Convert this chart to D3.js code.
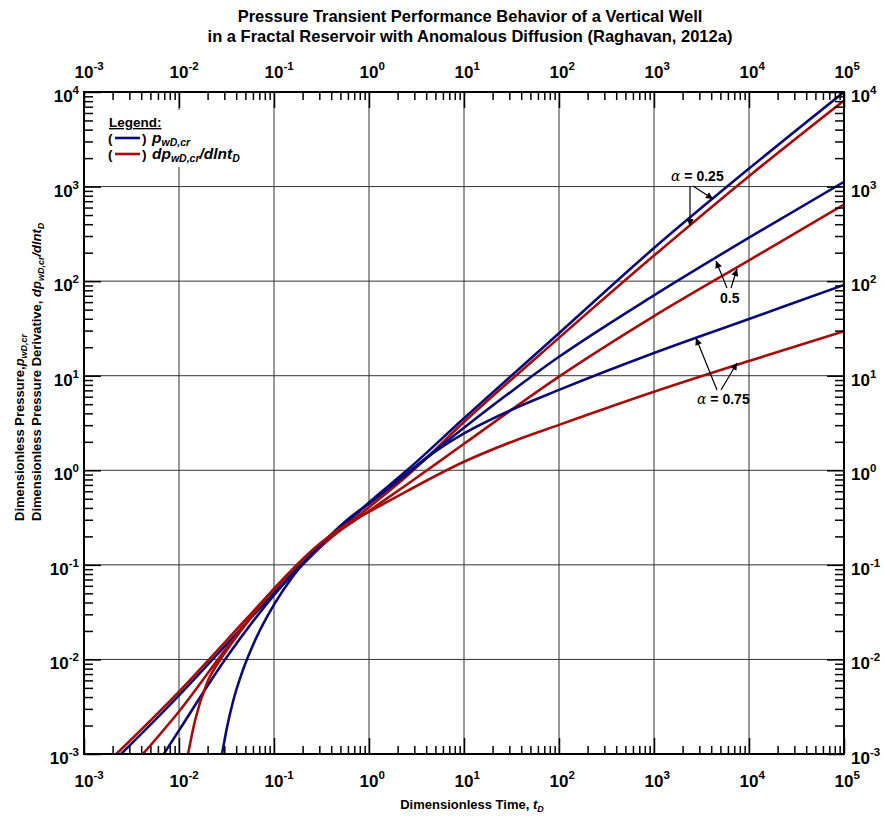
<!DOCTYPE html>
<html><head><meta charset="utf-8">
<script src="https://cdn.jsdelivr.net/npm/d3@7"></script>
<style>body{margin:0;background:#fff}svg{display:block;font-family:"Liberation Sans",Arial,sans-serif}</style>
</head><body><svg id="c" width="884" height="820"></svg>
<script>
// ---- data ----
const xExponents = [-3,-2,-1,0,1,2,3,4,5];
const yExponents = [-3,-2,-1,0,1,2,3,4];

// alpha = 0.25
const tPw025 = [0.002455,0.005012,0.01,0.03162,0.1,0.3162,1,2.512,10,100,1000,10000,100000];
const pPw025 = [0.001,0.002042,0.004169,0.01445,0.05012,0.1585,0.4571,1.0,3.548,28.18,223.9,1549,10000];
const tDp025 = [0.002188,0.01,0.03162,0.1,0.3162,1,2.512,10,100,1000,10000,100000];
const pDp025 = [0.001,0.004571,0.01585,0.05495,0.1585,0.4074,0.871,3.236,25.12,186.2,1288,8128];
// alpha = 0.5
const tPw05 = [0.006918,0.01,0.03162,0.1,0.3162,1,2.512,10,100,1000,10000,100000];
const pPw05 = [0.001,0.001778,0.01047,0.04786,0.166,0.4467,0.9333,2.818,15.85,70.79,288.4,1122];
const tDp05 = [0.004169,0.01,0.03162,0.1,0.3162,1,2.512,10,100,1000,10000,100000];
const pDp05 = [0.001,0.002818,0.01318,0.05623,0.166,0.3715,0.7079,1.905,9.772,42.66,166,645.7];
// alpha = 0.75
const tPw075 = [0.02838,0.03199,0.03715,0.04677,0.0631,0.1,0.1585,0.2512,0.3981,0.631,1,2.512,5.012,10,31.62,100,1000,10000,100000];
const pPw075 = [0.001,0.001905,0.003631,0.007586,0.01585,0.03802,0.07586,0.1318,0.2089,0.3162,0.4467,0.912,1.585,2.455,4.365,7.079,17.38,39.81,91.2];
const tDp075 = [0.01245,0.01479,0.01972,0.02818,0.04169,0.1,0.3162,0.5623,1,2.512,10,31.62,100,1000,10000,100000];
const pDp075 = [0.001,0.002291,0.005623,0.01047,0.01820,0.05495,0.1738,0.263,0.3631,0.6026,1.23,1.995,3.02,6.761,14.29,29.51];

const BLUE = "#0b0b78", RED = "#a50d0d";
const series = [
  {t:tPw025,p:pPw025,c:BLUE},{t:tDp025,p:pDp025,c:RED},
  {t:tPw05,p:pPw05,c:BLUE},{t:tDp05,p:pDp05,c:RED},
  {t:tPw075,p:pPw075,c:BLUE},{t:tDp075,p:pDp075,c:RED}
];

// ---- layout ----
const L=84,R=844,T=92,B=754;
const svg = d3.select("#c");
const x = d3.scaleLog().domain([1e-3,1e5]).range([L,R]);
const y = d3.scaleLog().domain([1e-3,1e4]).range([B,T]);

const majX = xExponents.map(e=>Math.pow(10,e));
const majY = yExponents.map(e=>Math.pow(10,e));
const minor = (exps)=>{const a=[];exps.slice(0,-1).forEach(e=>{for(let k=2;k<=9;k++)a.push(k*Math.pow(10,e));});return a;};
const minX = minor(xExponents), minY = minor(yExponents);

// title
const title = svg.append("g").attr("font-weight","bold").attr("font-size",16.5).attr("text-anchor","middle");
title.append("text").attr("x",470).attr("y",22).text("Pressure Transient Performance Behavior of a Vertical Well");
title.append("text").attr("x",470).attr("y",42).text("in a Fractal Reservoir with Anomalous Diffusion (Raghavan, 2012a)");

// gridlines
const grid = svg.append("g").attr("stroke","#333").attr("stroke-width",1);
grid.selectAll(".gx").data(majX).join("line").attr("x1",d=>x(d)).attr("x2",d=>x(d)).attr("y1",T).attr("y2",B);
grid.selectAll(".gy").data(majY).join("line").attr("y1",d=>y(d)).attr("y2",d=>y(d)).attr("x1",L).attr("x2",R);

// curves
svg.append("clipPath").attr("id","clip").append("rect").attr("x",L).attr("y",T).attr("width",R-L).attr("height",B-T);
const line = d3.line().x(d=>x(d[0])).y(d=>y(d[1])).curve(d3.curveMonotoneX);
const cg = svg.append("g").attr("clip-path","url(#clip)");
series.forEach(s=>{
  cg.append("path").attr("d",line(s.t.map((t,i)=>[t,s.p[i]]))).attr("fill","none")
    .attr("stroke",s.c).attr("stroke-width",2.6).attr("stroke-linejoin","round");
});

// legend box (white background)
svg.append("rect").attr("x",104).attr("y",110).attr("width",150).attr("height",57).attr("fill","#fff");

// ticks via d3 axes (inward)
function ax(gen, vals, size, tr){
  const g = svg.append("g").attr("transform",tr).call(gen.tickValues(vals).tickSize(size).tickFormat(""));
  g.select(".domain").remove();
  g.selectAll("line").attr("stroke","#000").attr("stroke-width",1.5);
}
ax(d3.axisBottom(x),minX,-8,`translate(0,${B})`);
ax(d3.axisBottom(x),majX,-16,`translate(0,${B})`);
ax(d3.axisTop(x),minX,-8,`translate(0,${T})`);
ax(d3.axisTop(x),majX,-16,`translate(0,${T})`);
ax(d3.axisLeft(y),minY,-9,`translate(${L},0)`);
ax(d3.axisLeft(y),majY,-17,`translate(${L},0)`);
ax(d3.axisRight(y),minY,-9,`translate(${R},0)`);
ax(d3.axisRight(y),majY,-17,`translate(${R},0)`);

// frame
svg.append("rect").attr("x",L).attr("y",T).attr("width",R-L).attr("height",B-T).attr("fill","none").attr("stroke","#000").attr("stroke-width",2);

// tick labels
function pow(g, xx, yy, e, anchor){
  const t = g.append("text").attr("x",xx).attr("y",yy).attr("text-anchor",anchor).attr("font-weight","bold");
  t.append("tspan").attr("font-size",17).text("10");
  t.append("tspan").attr("font-size",11.5).attr("dy",-8).text(e);
}
const lab = svg.append("g");
xExponents.forEach(e=>{ pow(lab, x(Math.pow(10,e))-9.5, 787, e, "start"); pow(lab, x(Math.pow(10,e))-9.5, 78, e, "start"); });
yExponents.forEach(e=>{ pow(lab, 79, y(Math.pow(10,e))+10, e, "end"); pow(lab, 851, y(Math.pow(10,e))+10, e, "start"); });

// axis titles
const xt = svg.append("text").attr("x",472).attr("y",809).attr("text-anchor","middle").attr("font-weight","bold").attr("font-size",13);
xt.append("tspan").text("Dimensionless Time, ");
xt.append("tspan").attr("font-style","italic").text("t");
xt.append("tspan").attr("font-style","italic").attr("font-size",9).attr("dy",3).text("D");

const yt1 = svg.append("text").attr("transform","translate(24,521) rotate(-90)").attr("font-weight","bold").attr("font-size",13);
yt1.append("tspan").text("Dimensionless Pressure,");
yt1.append("tspan").attr("font-style","italic").text("p");
yt1.append("tspan").attr("font-style","italic").attr("font-size",9).attr("dy",3).text("wD,cr");
const yt2 = svg.append("text").attr("transform","translate(41,521) rotate(-90)").attr("font-weight","bold").attr("font-size",13);
yt2.append("tspan").text("Dimensionless Pressure Derivative, ");
yt2.append("tspan").attr("font-style","italic").text("dp");
yt2.append("tspan").attr("font-style","italic").attr("font-size",9).attr("dy",3).text("wD,cr");
yt2.append("tspan").attr("font-style","italic").attr("dy",-3).text("/dlnt");
yt2.append("tspan").attr("font-style","italic").attr("font-size",9).attr("dy",3).text("D");

// legend
const lg = svg.append("g").attr("font-weight","bold").attr("font-size",13.5);
lg.append("text").attr("x",109).attr("y",127).attr("text-decoration","underline").text("Legend:");
[[BLUE,143,"p","wD,cr",""],[RED,159,"dp","wD,cr","/dlnt"]].forEach(([c,yy,a,b,d])=>{
  lg.append("text").attr("x",108).attr("y",yy).text("(");
  lg.append("line").attr("x1",115).attr("x2",140).attr("y1",yy-5).attr("y2",yy-5).attr("stroke",c).attr("stroke-width",2.6);
  lg.append("text").attr("x",142).attr("y",yy).text(")");
  const t = lg.append("text").attr("x",152).attr("y",yy).attr("font-style","italic");
  t.append("tspan").attr("font-size",15.5).text(a);
  t.append("tspan").attr("font-size",10.5).attr("dy",3).text(b);
  if(d){ t.append("tspan").attr("font-size",15.5).attr("dy",-3).text(d); t.append("tspan").attr("font-size",10.5).attr("dy",3).text("D"); }
});

// annotations
svg.append("defs").append("marker").attr("id","ah").attr("viewBox","0 0 10 10").attr("refX",10).attr("refY",5)
  .attr("markerWidth",10).attr("markerHeight",7).attr("markerUnits","userSpaceOnUse").attr("orient","auto")
  .append("path").attr("d","M0,0L10,5L0,10z").attr("fill","#000");
const an = svg.append("g");
function alphaLabel(xx,yy,txt){
  const t = an.append("text").attr("x",xx).attr("y",yy).attr("font-size",14).attr("font-weight","bold");
  t.append("tspan").attr("font-family","'DejaVu Serif',serif").attr("font-style","italic").attr("font-weight","normal").text("α");
  t.append("tspan").text(" = "+txt);
}
alphaLabel(671,181,"0.25");
an.append("text").attr("x",720).attr("y",303).attr("font-size",14).attr("font-weight","bold").text("0.5");
alphaLabel(697,404,"0.75");
const arrows = [[690,186,690,226],[693,186,713,199],[727,288,716,261],[731,288,737,269],[717,390,696,338],[721,390,737,363]];
arrows.forEach(([a,b,c,d])=>an.append("line").attr("x1",a).attr("y1",b).attr("x2",c).attr("y2",d).attr("stroke","#000").attr("stroke-width",1.2).attr("marker-end","url(#ah)"));
</script></body></html>
